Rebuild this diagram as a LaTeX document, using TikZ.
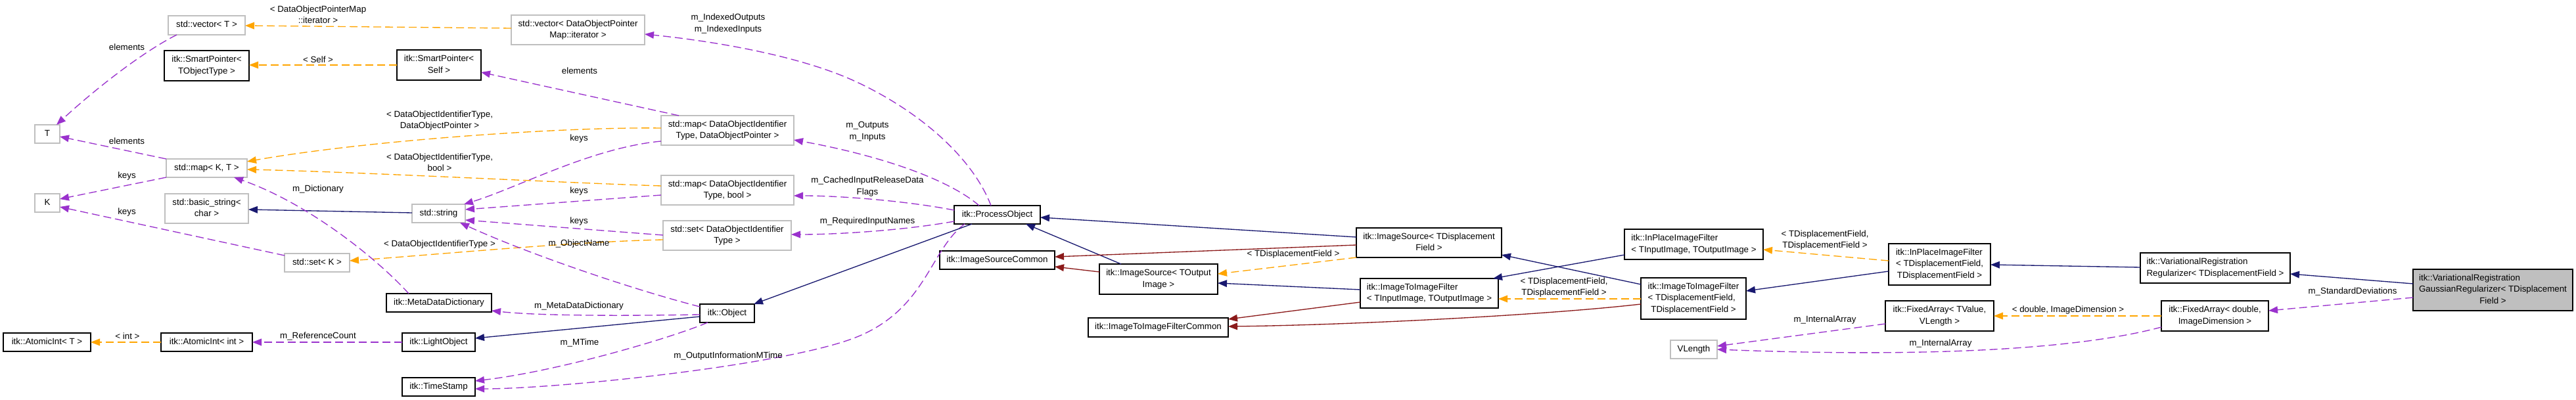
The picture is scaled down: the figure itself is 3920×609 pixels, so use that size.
\documentclass[tikz,border=0pt]{standalone}
\usepackage{fontspec}
\setmainfont{Liberation Sans}
\usetikzlibrary{arrows.meta,calc}
\definecolor{cnavy}{HTML}{191970}
\definecolor{cdred}{HTML}{8B1A1A}
\definecolor{corange}{HTML}{FFA500}
\definecolor{cpurple}{HTML}{9A32CD}
\definecolor{cgray}{HTML}{BFBFBF}
\newcommand\LL[2]{\begin{tabular}{@{}l@{}}#1\\\multicolumn{1}{@{}c@{}}{#2}\end{tabular}}
\newcommand\LLL[3]{\begin{tabular}{@{}l@{}}#1\\#2\\\multicolumn{1}{@{}c@{}}{#3}\end{tabular}}
\tikzset{
  nd/.style={line width=1pt, inner sep=0pt, fill=white},
  gb/.style={nd, draw=cgray},
  bb/.style={nd, draw=black},
  sz/.style 2 args={minimum width=#1*0.75pt, minimum height=#2*0.75pt},
  tipx/.style={-{Triangle[length=10.5pt,width=8pt]}},
  inh/.style={draw=cnavy, line width=1pt, tipx},
  pinh/.style={draw=cdred, line width=1pt, tipx},
  tpl/.style={draw=corange, line width=1pt, dash pattern=on 9pt off 4.5pt, tipx},
  usg/.style={draw=cpurple, line width=1pt, dash pattern=on 9pt off 4.5pt, tipx},
  lbl/.style={inner sep=0pt, align=center}
}
\begin{document}
\begin{tikzpicture}[x=0.75pt, y=-0.75pt, font=\fontsize{10}{13.1}\selectfont]
\fill[white] (0,0) rectangle (3920,609);
\useasboundingbox (0,0) rectangle (3920,609);

% nodes
\node[gb, sz={117}{29}] (vecT) at (314.5,38.5) {\strut std::vector< T >};
\node[bb, sz={129}{46}] (spT) at (314.5,100) {\LL{itk::SmartPointer<}{TObjectType >}};
\node[gb, sz={38}{28}] (T) at (72,204) {\strut T};
\node[gb, sz={123}{28}] (mapKT) at (314.5,256) {\strut std::map< K, T >};
\node[gb, sz={38}{28}] (K) at (72,309) {\strut K};
\node[gb, sz={127}{45}] (bstr) at (314.5,317.5) {\LL{std::basic\_string<}{char >}};
\node[gb, sz={99}{28}] (setK) at (482.5,400) {\strut std::set< K >};
\node[bb, sz={160}{28}] (mdd) at (668,461) {\strut itk::MetaDataDictionary};
\node[bb, sz={133}{28}] (aiT) at (71.5,521) {\strut itk::AtomicInt< T >};
\node[bb, sz={139}{28}] (aiInt) at (314.5,521) {\strut itk::AtomicInt< int >};
\node[bb, sz={111}{28}] (lobj) at (667.5,521) {\strut itk::LightObject};
\node[bb, sz={111}{28}] (ts) at (667.5,589) {\strut itk::TimeStamp};
\node[bb, sz={128}{46}] (spSelf) at (668,99) {\LL{itk::SmartPointer<}{Self >}};
\node[gb, sz={203}{45}] (vecIt) at (879.5,45.5) {\LL{std::vector< DataObjectPointer}{Map::iterator >}};
\node[gb, sz={202}{45}] (mapDOP) at (1107,198.5) {\LL{std::map< DataObjectIdentifier}{Type, DataObjectPointer >}};
\node[gb, sz={202}{45}] (mapBool) at (1107,289.5) {\LL{std::map< DataObjectIdentifier}{Type, bool >}};
\node[gb, sz={81}{28}] (str) at (667.5,325) {\strut std::string};
\node[gb, sz={195}{45}] (setDOIT) at (1106.5,358.5) {\LL{std::set< DataObjectIdentifier}{Type >}};
\node[bb, sz={83}{28}] (obj) at (1106.5,477) {\strut itk::Object};
\node[bb, sz={131}{28}] (po) at (1517.5,327) {\strut itk::ProcessObject};
\node[bb, sz={175}{28}] (isc) at (1517.5,396) {\strut itk::ImageSourceCommon};
\node[bb, sz={180}{46}] (isTO) at (1763,425) {\LL{itk::ImageSource< TOutput}{Image >}};
\node[bb, sz={213}{29}] (itifc) at (1762.5,498.5) {\strut itk::ImageToImageFilterCommon};
\node[bb, sz={221}{45}] (isDF) at (2174.5,369.5) {\LL{itk::ImageSource< TDisplacement}{Field >}};
\node[bb, sz={210}{45}] (itifTI) at (2175,446.5) {\LL{itk::ImageToImageFilter}{< TInputImage, TOutputImage >}};
\node[bb, sz={211}{46}] (ipifTI) at (2577.5,372) {\LL{itk::InPlaceImageFilter}{< TInputImage, TOutputImage >}};
\node[bb, sz={160}{63}] (itifDF) at (2577,454.5) {\LLL{itk::ImageToImageFilter}{< TDisplacementField,}{TDisplacementField >}};
\node[gb, sz={71}{28}] (vlen) at (2577.5,532) {\strut VLength};
\node[bb, sz={155}{63}] (ipifDF) at (2951.5,402.5) {\LLL{itk::InPlaceImageFilter}{< TDisplacementField,}{TDisplacementField >}};
\node[bb, sz={165}{46}] (faTV) at (2951.5,481) {\LL{itk::FixedArray< TValue,}{VLength >}};
\node[bb, sz={228}{46}] (reg) at (3371,408) {\LL{itk::VariationalRegistration}{Regularizer< TDisplacementField >}};
\node[bb, sz={163}{46}] (faD) at (3370.5,481) {\LL{itk::FixedArray< double,}{ImageDimension >}};
\node[bb, fill=cgray, sz={243}{63}] (gauss) at (3793.5,441.5) {\LLL{itk::VariationalRegistration}{GaussianRegularizer< TDisplacement}{Field >}};

% connectors
\draw[usg] ($(vecT)+(-45.5,14.5)$) .. controls (215,80) and (140,140) .. ($(T)+(14,-14)$);
\draw[usg] ($(mapKT)+(-61.5,-14)$) -- ($(T)+(19,4)$);
\draw[usg] ($(mapKT)+(-61.5,14)$) -- ($(K)+(19,-6)$);
\draw[usg] ($(setK)+(-49.5,-11)$) -- ($(K)+(19,6)$);
\draw[inh] ($(str)+(-40.5,-1)$) -- ($(bstr)+(63.5,1.5)$);
\draw[tpl] ($(vecIt)+(-101.5,-2.5)$) -- ($(vecT)+(58.5,0.5)$);
\draw[tpl] ($(spSelf)+(-64,0)$) -- ($(spT)+(64.5,-1)$);
\draw[tpl] ($(mapDOP)+(-101,-3.5)$) .. controls (850,193) and (550,215) .. ($(mapKT)+(61.5,-10)$);
\draw[tpl] ($(mapBool)+(-101,-6.5)$) .. controls (850,278) and (550,262) .. ($(mapKT)+(61.5,2)$);
\draw[tpl] ($(setDOIT)+(-97.5,6.5)$) .. controls (870,368) and (660,388) .. ($(setK)+(49.5,-3)$);
\draw[usg] ($(mapDOP)+(-74,-22.5)$) -- ($(spSelf)+(64,11)$);
\draw[usg] ($(mapDOP)+(-101,16.5)$) .. controls (900,225) and (790,285) .. ($(str)+(38.5,-14)$);
\draw[usg] ($(mapBool)+(-101,7.5)$) -- ($(str)+(40.5,-6)$);
\draw[usg] ($(setDOIT)+(-97.5,-0.5)$) -- ($(str)+(40.5,10)$);
\draw[usg] ($(mdd)+(-46,-14)$) .. controls (575,395) and (470,310) .. ($(mapKT)+(41.5,14)$);
\draw[usg] ($(obj)+(-41.5,-10)$) .. controls (960,440) and (800,385) .. ($(str)+(32.5,14)$);
\draw[usg] ($(obj)+(-41.5,2)$) .. controls (950,481) and (820,481) .. ($(mdd)+(80,12)$);
\draw[inh] ($(obj)+(-41.5,5)$) -- ($(lobj)+(55.5,-6)$);
\draw[usg] ($(obj)+(-29.5,14)$) .. controls (1020,515) and (850,565) .. ($(ts)+(55.5,-9)$);
\draw[usg] ($(po)+(-49.5,14)$) .. controls (1415,380) and (1410,470) .. (1304,513) .. controls (1198,556) and (850,592) .. ($(ts)+(55.5,3)$);
\draw[usg] ($(lobj)+(-55.5,0)$) -- ($(aiInt)+(69.5,0)$);
\draw[tpl] ($(aiInt)+(-69.5,0)$) -- ($(aiT)+(66.5,0)$);
\draw[inh] ($(po)+(-38.5,14)$) -- ($(obj)+(40.5,-14)$);
\draw[usg] ($(po)+(-9.5,-14)$) .. controls (1480,240) and (1400,170) .. (1304,125) .. controls (1208,80) and (1060,60) .. ($(vecIt)+(101.5,6.5)$);
\draw[usg] ($(po)+(-27.5,-14)$) .. controls (1440,270) and (1330,235) .. ($(mapDOP)+(101,14.5)$);
\draw[usg] ($(po)+(-65.5,-7)$) .. controls (1380,306) and (1280,298) .. ($(mapBool)+(101,8.5)$);
\draw[usg] ($(po)+(-65.5,10)$) .. controls (1380,350) and (1280,357) .. ($(setDOIT)+(97.5,-1.5)$);
\draw[inh] ($(isTO)+(-57,-23)$) -- ($(po)+(43.5,14)$);
\draw[pinh] ($(isTO)+(-90,-11)$) -- ($(isc)+(87.5,10)$);
\draw[inh] ($(isDF)+(-110.5,-8.5)$) -- ($(po)+(65.5,4)$);
\draw[pinh] ($(isDF)+(-110.5,3.5)$) -- ($(isc)+(87.5,-5)$);
\draw[tpl] ($(isDF)+(-110.5,22.5)$) -- ($(isTO)+(90,-8)$);
\draw[inh] ($(itifTI)+(-105,-5.5)$) -- ($(isTO)+(90,6)$);
\draw[pinh] ($(itifTI)+(-105,13.5)$) -- ($(itifc)+(106.5,-12.5)$);
\draw[pinh] ($(itifDF)+(-80,8.5)$) .. controls (2350,480) and (2050,495) .. ($(itifc)+(106.5,-1.5)$);
\draw[inh] ($(itifDF)+(-80,-21.5)$) -- ($(isDF)+(110.5,18.5)$);
\draw[tpl] ($(itifDF)+(-80,0.5)$) -- ($(itifTI)+(105,8.5)$);
\draw[inh] ($(ipifTI)+(-105.5,16)$) -- ($(itifTI)+(97,-22.5)$);
\draw[tpl] ($(ipifDF)+(-77.5,-5.5)$) -- ($(ipifTI)+(105.5,8)$);
\draw[inh] ($(ipifDF)+(-77.5,10.5)$) -- ($(itifDF)+(80,-11.5)$);
\draw[inh] ($(reg)+(-114,-1)$) -- ($(ipifDF)+(77.5,0.5)$);
\draw[inh] ($(gauss)+(-121.5,-9.5)$) -- ($(reg)+(114,9)$);
\draw[usg] ($(gauss)+(-121.5,11.5)$) -- ($(faD)+(81.5,-8)$);
\draw[tpl] ($(faD)+(-81.5,0)$) -- ($(faTV)+(82.5,0)$);
\draw[usg] ($(faTV)+(-82.5,12)$) -- ($(vlen)+(35.5,-5)$);
\draw[usg] ($(faD)+(-81.5,17)$) .. controls (3170,530) and (2950,545) .. ($(vlen)+(35.5,0)$);

% labels
\node[lbl] (l1) at (193,72) {elements};
\node[lbl] (l2) at (193,215) {elements};
\node[lbl] (l3) at (193,268) {keys};
\node[lbl] (l4) at (193,323) {keys};
\node[lbl] (l5) at (484,22) {< DataObjectPointerMap\\::iterator >};
\node[lbl] (l6) at (484,91) {< Self >};
\node[lbl] (l7) at (669,183.5) {< DataObjectIdentifierType,\\DataObjectPointer >};
\node[lbl] (l8) at (669,247.5) {< DataObjectIdentifierType,\\bool >};
\node[lbl] (l9) at (669,372) {< DataObjectIdentifierType >};
\node[lbl] (l10) at (882,108) {elements};
\node[lbl] (l11) at (881,211) {keys};
\node[lbl] (l12) at (881,291) {keys};
\node[lbl] (l13) at (881,337) {keys};
\node[lbl] (l14) at (881,371) {m\_ObjectName};
\node[lbl] (l15) at (484,288) {m\_Dictionary};
\node[lbl] (l16) at (881,466) {m\_MetaDataDictionary};
\node[lbl] (l17) at (882,522) {m\_MTime};
\node[lbl] (l18) at (1108,542) {m\_OutputInformationMTime};
\node[lbl] (l19) at (484,512) {m\_ReferenceCount};
\node[lbl] (l20) at (194,512) {< int >};
\node[lbl] (l21) at (1108,36) {m\_IndexedOutputs\\m\_IndexedInputs};
\node[lbl] (l22) at (1320,200) {m\_Outputs\\m\_Inputs};
\node[lbl] (l23) at (1320,284) {m\_CachedInputReleaseData\\Flags};
\node[lbl] (l24) at (1320,337) {m\_RequiredInputNames};
\node[lbl] (l25) at (1968,387) {< TDisplacementField >};
\node[lbl] (l26) at (2380,437.5) {< TDisplacementField,\\TDisplacementField >};
\node[lbl] (l27) at (2777,365.5) {< TDisplacementField,\\TDisplacementField >};
\node[lbl] (l28) at (3147,472) {< double, ImageDimension >};
\node[lbl] (l29) at (2777,487) {m\_InternalArray};
\node[lbl] (l30) at (2953,523) {m\_InternalArray};
\node[lbl] (l31) at (3580,444) {m\_StandardDeviations};
\end{tikzpicture}
\end{document}
